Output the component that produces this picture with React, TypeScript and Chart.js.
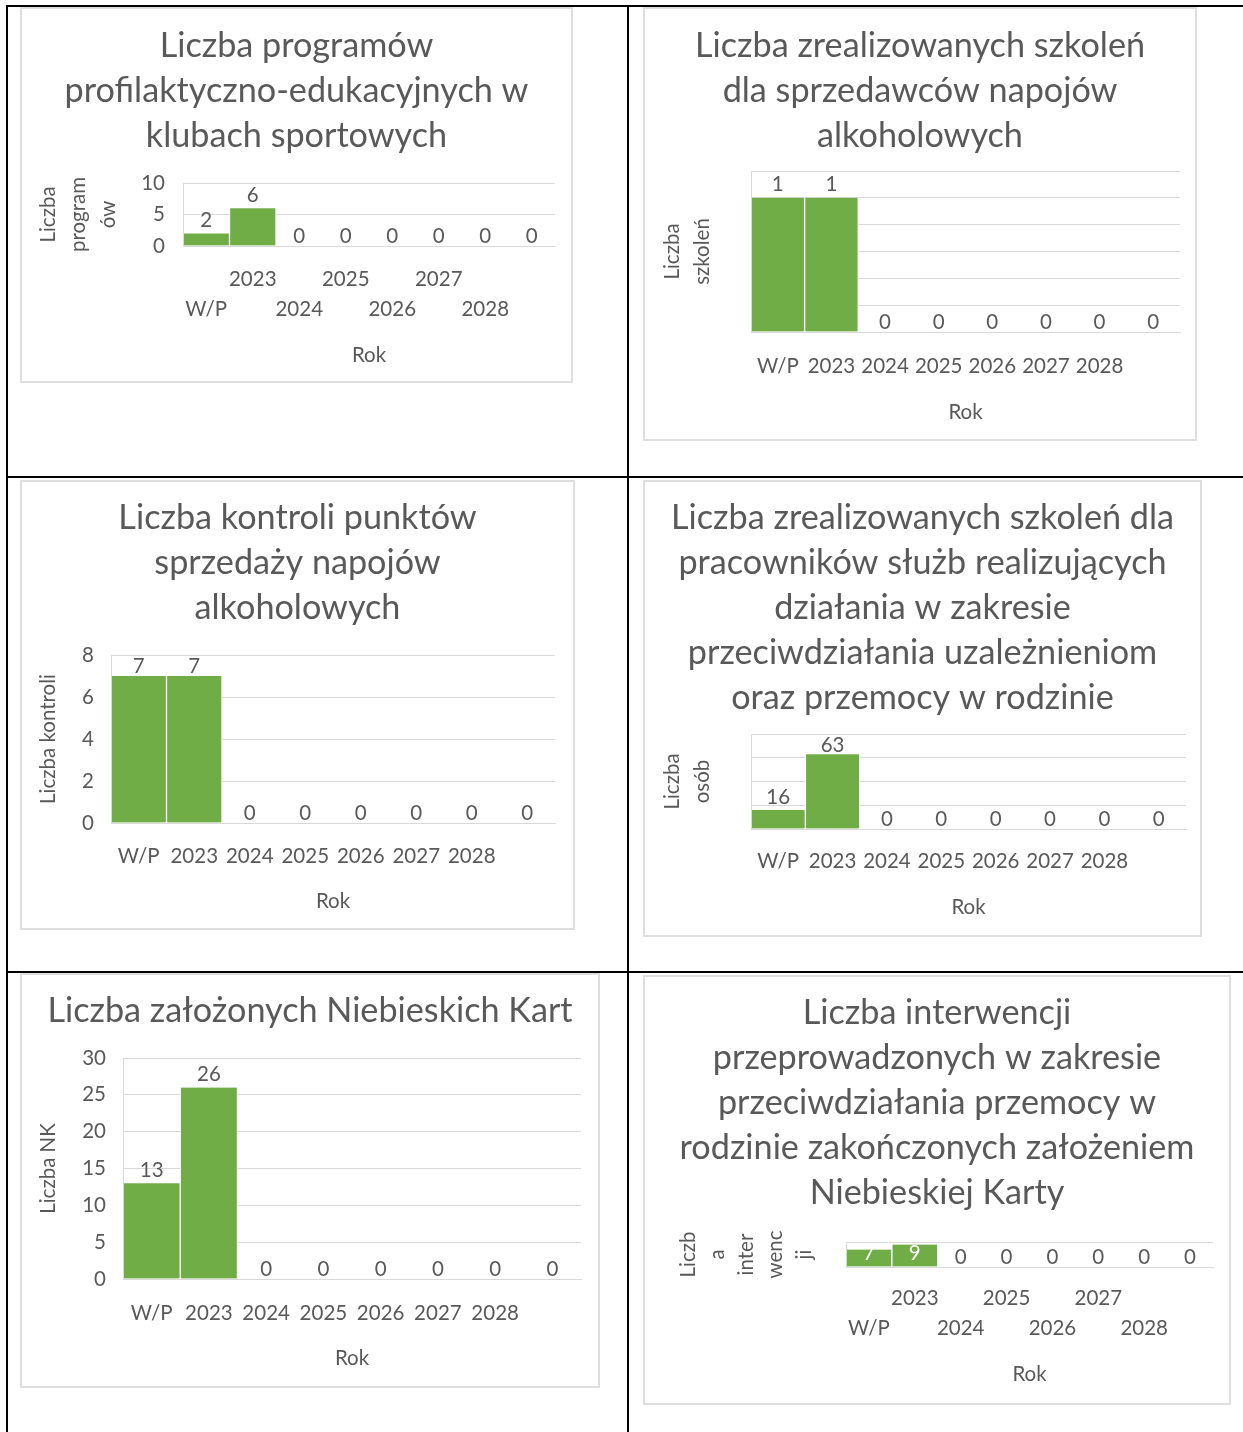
import React, { useEffect, useRef } from "react";
import { Chart, registerables } from "chart.js";

Chart.register(...registerables);

// ---------------- DATA ----------------
const categories = ["W/P", "2023", "2024", "2025", "2026", "2027", "2028", ""];

const programyValues = [2, 6, 0, 0, 0, 0, 0, 0];
const szkoleniaSprzedawcyValues = [1, 1, 0, 0, 0, 0, 0, 0];
const kontroleValues = [7, 7, 0, 0, 0, 0, 0, 0];
const szkoleniaPracownicyValues = [16, 63, 0, 0, 0, 0, 0, 0];
const niebieskieKartyValues = [13, 26, 0, 0, 0, 0, 0, 0];
const interwencjeValues = [7, 9, 0, 0, 0, 0, 0, 0];

const programyTitle = ["Liczba programów", "profilaktyczno-edukacyjnych w", "klubach sportowych"];
const szkoleniaSprzedawcyTitle = ["Liczba zrealizowanych szkoleń", "dla sprzedawców napojów", "alkoholowych"];
const kontroleTitle = ["Liczba kontroli punktów", "sprzedaży napojów", "alkoholowych"];
const szkoleniaPracownicyTitle = [
  "Liczba zrealizowanych szkoleń dla",
  "pracowników służb realizujących",
  "działania w zakresie",
  "przeciwdziałania uzależnieniom",
  "oraz przemocy w rodzinie",
];
const niebieskieKartyTitle = ["Liczba założonych Niebieskich Kart"];
const interwencjeTitle = [
  "Liczba interwencji",
  "przeprowadzonych w zakresie",
  "przeciwdziałania przemocy w",
  "rodzinie zakończonych założeniem",
  "Niebieskiej Karty",
];

const programyYTitle = ["Liczba", "program", "ów"];
const szkoleniaSprzedawcyYTitle = ["Liczba", "szkoleń"];
const kontroleYTitle = ["Liczba kontroli"];
const szkoleniaPracownicyYTitle = ["Liczba", "osób"];
const niebieskieKartyYTitle = ["Liczba NK"];
const interwencjeYTitle = ["Liczb", "a", "inter", "wenc", "ji"];

const xAxisTitle = "Rok";

// y-axis ranges [max, step]
const programyYRange = [10, 5];
const szkoleniaSprzedawcyYRange = [1.2, 0.2];
const kontroleYRange = [8, 2];
const szkoleniaPracownicyYRange = [80, 20];
const niebieskieKartyYRange = [30, 5];
const interwencjeYRange = [10, 10];

// ---------------- STYLE ----------------
const FONT = "Lato, 'Open Sans', sans-serif";
const TEXT = "#595959";
const GRID = "#d9d9d9";
const BAR = "#70ad47";
const TITLE_SIZE = 34.2;
const TITLE_LH = 45;
const TICK_SIZE = 20.5;

type Spec = {
  box: number[]; // L T R B
  plot: number[]; // l t r b
  title: string[];
  titleY: number;
  yTitle: string[];
  yTitleX: number;
  yTitleLH: number;
  yRange: number[];
  yTicks: boolean;
  yTickRight: number;
  values: number[];
  stagger: boolean;
  xLabelY: number;
  rokY: number;
};

const specs: Spec[] = [
  {
    box: [20, 7, 573, 383], plot: [183, 183, 555, 246],
    title: programyTitle, titleY: 46,
    yTitle: programyYTitle, yTitleX: 48, yTitleLH: 30,
    yRange: programyYRange, yTicks: true, yTickRight: 165,
    values: programyValues, stagger: true, xLabelY: 279, rokY: 355,
  },
  {
    box: [643, 7, 1197, 441], plot: [751, 171, 1180, 332],
    title: szkoleniaSprzedawcyTitle, titleY: 46,
    yTitle: szkoleniaSprzedawcyYTitle, yTitleX: 672, yTitleLH: 30,
    yRange: szkoleniaSprzedawcyYRange, yTicks: false, yTickRight: 740,
    values: szkoleniaSprzedawcyValues, stagger: false, xLabelY: 366, rokY: 412,
  },
  {
    box: [20, 480, 575, 930], plot: [111, 655, 555, 823],
    title: kontroleTitle, titleY: 518,
    yTitle: kontroleYTitle, yTitleX: 48, yTitleLH: 30,
    yRange: kontroleYRange, yTicks: true, yTickRight: 94,
    values: kontroleValues, stagger: false, xLabelY: 856, rokY: 901,
  },
  {
    box: [643, 480, 1202, 937], plot: [751, 734, 1186, 829],
    title: szkoleniaPracownicyTitle, titleY: 518,
    yTitle: szkoleniaPracownicyYTitle, yTitleX: 672, yTitleLH: 30,
    yRange: szkoleniaPracownicyYRange, yTicks: false, yTickRight: 740,
    values: szkoleniaPracownicyValues, stagger: false, xLabelY: 861, rokY: 907,
  },
  {
    box: [20, 973, 600, 1388], plot: [123, 1058, 581, 1279],
    title: niebieskieKartyTitle, titleY: 1011,
    yTitle: niebieskieKartyYTitle, yTitleX: 48, yTitleLH: 30,
    yRange: niebieskieKartyYRange, yTicks: true, yTickRight: 106,
    values: niebieskieKartyValues, stagger: false, xLabelY: 1313, rokY: 1358,
  },
  {
    box: [643, 975, 1231, 1405], plot: [846, 1242, 1213, 1267],
    title: interwencjeTitle, titleY: 1013,
    yTitle: interwencjeYTitle, yTitleX: 688, yTitleLH: 29,
    yRange: interwencjeYRange, yTicks: false, yTickRight: 830,
    values: interwencjeValues, stagger: true, xLabelY: 1298, rokY: 1374,
  },
];

const valueLabels = {
  id: "valueLabels",
  afterDatasetsDraw(chart: any) {
    const ctx = chart.ctx;
    const area = chart.chartArea;
    const meta = chart.getDatasetMeta(0);
    const data = chart.data.datasets[0].data as number[];
    ctx.save();
    ctx.font = `${TICK_SIZE}px ${FONT}`;
    ctx.textAlign = "center";
    ctx.textBaseline = "middle";
    meta.data.forEach((el: any, i: number) => {
      const v = data[i];
      const top = el.y;
      const y = Math.max(top - (v > 0 ? 13 : 10), area.top + 11);
      ctx.fillStyle = v > 0 && y > top - 6 ? "#ffffff" : TEXT;
      ctx.fillText(String(v), el.x, y);
    });
    ctx.restore();
  },
};

function BarChart({ spec }: { spec: Spec }) {
  const ref = useRef<HTMLCanvasElement | null>(null);
  const [L, T, R, B] = spec.box;
  const [l, t, r, b] = spec.plot;
  const W = R - L;
  const H = B - T;

  useEffect(() => {
    if (!ref.current) return;
    const g = R - r;
    const yWidth = l - L - g;
    const xHeight = B - b;
    const titlePadTop = spec.titleY - T - TITLE_LH / 2;
    const titlePadBottom = t - T - titlePadTop - spec.title.length * TITLE_LH;
    const yTitlePad = spec.yTitleX - (L + g) - spec.yTitleLH / 2;
    const xLH = 30;
    const xTickPad = spec.xLabelY - b - xLH / 2;
    const rokPad = B - spec.rokY - 15;
    const labels = categories.map((c, i) =>
      spec.stagger ? (i % 2 === 0 ? ["", c] : [c, ""]) : c
    );

    const chart = new Chart(ref.current, {
      type: "bar",
      data: {
        labels,
        datasets: [
          {
            data: spec.values,
            backgroundColor: BAR,
            borderColor: "#ffffff",
            borderWidth: { left: 1, right: 1, top: 0, bottom: 0 } as any,
            borderSkipped: false as any,
            barPercentage: 1,
            categoryPercentage: 1,
          },
        ],
      },
      options: {
        animation: false,
        responsive: false,
        layout: { padding: { left: g, right: g, top: 0, bottom: 0 } },
        plugins: {
          legend: { display: false },
          tooltip: { enabled: false },
          title: {
            display: true,
            text: spec.title,
            color: TEXT,
            font: { family: FONT, size: TITLE_SIZE, weight: "normal", lineHeight: `${TITLE_LH}px` },
            padding: { top: titlePadTop, bottom: titlePadBottom },
          },
        },
        scales: {
          x: {
            offset: true,
            grid: { display: false, drawTicks: false },
            border: { display: true, color: GRID, width: 1 },
            ticks: {
              color: TEXT,
              autoSkip: false,
              maxRotation: 0,
              minRotation: 0,
              padding: xTickPad,
              font: { family: FONT, size: TICK_SIZE, lineHeight: `${xLH}px` },
            },
            title: {
              display: true,
              text: xAxisTitle,
              color: TEXT,
              font: { family: FONT, size: TICK_SIZE, lineHeight: "30px" },
              padding: { top: 0, bottom: rokPad },
            },
            afterFit: (s: any) => {
              s.height = xHeight;
              s.paddingLeft = 0;
              s.paddingRight = 0;
            },
          },
          y: {
            min: 0,
            max: spec.yRange[0],
            grid: { color: GRID, lineWidth: 1, drawTicks: false },
            border: { display: true, color: GRID, width: 1 },
            ticks: {
              display: spec.yTicks,
              stepSize: spec.yRange[1],
              color: TEXT,
              padding: l - spec.yTickRight,
              font: { family: FONT, size: TICK_SIZE },
            },
            title: {
              display: true,
              text: spec.yTitle,
              color: TEXT,
              font: { family: FONT, size: TICK_SIZE, lineHeight: `${spec.yTitleLH}px` },
              padding: { top: yTitlePad, bottom: 0 },
            },
            afterFit: (s: any) => {
              s.width = yWidth;
              s.paddingTop = 0;
              s.paddingBottom = 0;
            },
          },
        },
      } as any,
      plugins: [valueLabels],
    });
    return () => chart.destroy();
  }, []);

  return (
    <>
      <canvas
        ref={ref}
        width={W}
        height={H}
        style={{ position: "absolute", left: L, top: T, width: W, height: H }}
      />
      <div
        style={{
          position: "absolute",
          left: L,
          top: T,
          width: W,
          height: H,
          boxSizing: "border-box",
          border: "2px solid #dedede",
          pointerEvents: "none",
        }}
      />
    </>
  );
}

const line = (left: number, top: number, width: number, height: number) => (
  <div style={{ position: "absolute", left, top, width, height, background: "#000" }} />
);

export default function App() {
  return (
    <div style={{ position: "absolute", left: 0, top: 0, width: 1243, height: 1432, background: "#fff", overflow: "hidden" }}>
      {specs.map((s, i) => (
        <BarChart key={i} spec={s} />
      ))}
      {line(6, 5, 1237, 2)}
      {line(6, 476, 1237, 2)}
      {line(6, 971, 1237, 2)}
      {line(6, 5, 2, 1427)}
      {line(627, 5, 2, 1427)}
    </div>
  );
}
